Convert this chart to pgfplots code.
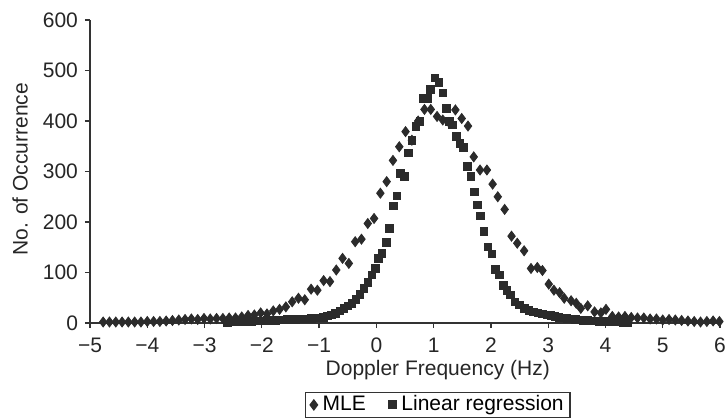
\documentclass[border=0pt]{standalone}
\usepackage{fontspec}
\setmainfont{Liberation Sans}
\usepackage{pgfplots}
\pgfplotsset{compat=1.18}
\definecolor{mk}{HTML}{2B2B2B}
\definecolor{ax}{HTML}{333333}
\begin{document}
\begin{tikzpicture}
\path[use as bounding box] (-45pt,-48pt) rectangle (319pt,161.5pt);
\begin{axis}[
  at={(0,0)}, anchor=south west, scale only axis,
  width=315pt, height=151.5pt,
  xmin=-5, xmax=6, ymin=0, ymax=600,
  axis lines*=left,
  axis line style={ax, line width=0.6pt},
  tick align=outside, major tick length=2.5pt,
  tick style={ax, line width=0.6pt},
  xtick={-5,...,6},
  xticklabels={−5,−4,−3,−2,−1,0,1,2,3,4,5,6},
  ytick={0,100,...,600},
  /pgf/number format/assume math mode=true,
  ticklabel style={font=\fontsize{10.5}{12}\selectfont, text=black!85},
  x tick label style={yshift=-1.3pt},
  xlabel={Doppler Frequency (Hz)},
  ylabel={No. of Occurrence},
  label style={font=\fontsize{10.5}{12}\selectfont, text=black!85},
  xlabel style={at={(axis description cs:0.552,-0.155)}, anchor=center},
  ylabel style={at={(axis description cs:-0.111,0.508)}, anchor=center},
  legend columns=2,
  legend style={at={(axis description cs:0.552,-0.3135)}, anchor=south,
    draw=ax, line width=0.6pt, font=\fontsize{10.5}{12}\selectfont,
    inner xsep=2pt, inner ysep=0.5pt, nodes={inner sep=1.2pt},
    /tikz/every even column/.append style={column sep=10pt}},
  legend image code/.code={\path (-1.9pt,0pt) (2.9pt,0pt); \draw[#1] plot coordinates {(0pt,0pt)};},
]
\addplot[only marks, mark=diamond*, mark size=2.5pt, color=mk] coordinates {
(-4.77,2) (-4.66,2) (-4.55,2) (-4.44,2) (-4.33,2) (-4.22,2) (-4.11,2) (-4.00,3)
(-3.89,3) (-3.78,3) (-3.67,4) (-3.56,5) (-3.45,6) (-3.34,7) (-3.23,8) (-3.12,7)
(-3.01,9) (-2.90,8) (-2.79,9) (-2.68,9) (-2.57,10) (-2.46,10) (-2.35,12) (-2.24,15)
(-2.13,16) (-2.02,20) (-1.91,18) (-1.80,24) (-1.69,27) (-1.58,32) (-1.47,42) (-1.36,49)
(-1.25,46) (-1.14,67) (-1.03,65) (-0.92,84) (-0.81,82) (-0.70,105) (-0.59,128) (-0.48,118)
(-0.37,161) (-0.26,166) (-0.15,197) (-0.04,207) (0.07,257) (0.18,280) (0.29,322) (0.40,349)
(0.51,379) (0.62,362) (0.73,400) (0.84,423) (0.95,423) (1.06,409) (1.16,402) (1.27,397)
(1.38,422) (1.49,405) (1.60,390) (1.70,329) (1.81,303) (1.93,303) (2.03,275) (2.12,250)
(2.24,225) (2.36,172) (2.46,158) (2.58,143) (2.70,108) (2.81,110) (2.90,104) (3.01,77)
(3.10,65) (3.20,60) (3.28,49) (3.40,44) (3.49,39) (3.57,29) (3.69,34) (3.81,22)
(3.92,20) (4.01,27) (4.12,13) (4.23,12) (4.34,13) (4.45,11) (4.56,10) (4.67,10)
(4.78,8) (4.89,8) (5.00,6) (5.11,7) (5.22,6) (5.33,5) (5.44,4) (5.55,3)
(5.66,2) (5.77,3) (5.88,4) (5.99,3)
};
\addlegendentry{MLE}
\addplot[only marks, mark=square*, mark size=1.9pt, color=mk] coordinates {
(-2.60,1) (-2.53,2) (-2.46,2) (-2.39,3) (-2.32,2) (-2.25,3) (-2.18,3) (-2.11,4)
(-2.04,4) (-1.97,4) (-1.90,5) (-1.83,5) (-1.76,5) (-1.69,6) (-1.62,6) (-1.55,7)
(-1.48,7) (-1.41,7) (-1.34,8) (-1.27,8) (-1.20,8) (-1.13,9) (-1.06,10) (-0.99,10)
(-0.92,11) (-0.85,14) (-0.78,16) (-0.71,19) (-0.64,24) (-0.57,29) (-0.50,34) (-0.43,39)
(-0.36,47) (-0.29,57) (-0.22,68) (-0.15,80) (-0.08,95) (-0.02,108) (0.04,128) (0.10,138)
(0.17,160) (0.23,187) (0.30,232) (0.36,252) (0.42,296) (0.49,290) (0.56,337) (0.62,362)
(0.69,389) (0.76,399) (0.82,445) (0.89,445) (0.94,463) (1.02,485) (1.09,476) (1.16,456)
(1.22,425) (1.27,399) (1.33,392) (1.40,370) (1.46,356) (1.52,348) (1.59,310) (1.65,290)
(1.71,260) (1.76,234) (1.82,212) (1.88,181) (1.95,151) (2.02,137) (2.08,106) (2.15,95)
(2.22,75) (2.28,65) (2.34,56) (2.42,42) (2.50,36) (2.58,29) (2.66,25) (2.74,22)
(2.82,20) (2.90,18) (2.98,16) (3.05,15) (3.12,13) (3.19,11) (3.26,10) (3.33,9)
(3.40,8) (3.47,7) (3.54,6) (3.61,5) (3.68,5) (3.75,4) (3.82,4) (3.89,3)
(3.96,3) (4.03,3) (4.10,2) (4.17,2) (4.24,2) (4.31,1) (4.38,1)
};
\addlegendentry{Linear regression}
\end{axis}
\end{tikzpicture}
\end{document}
